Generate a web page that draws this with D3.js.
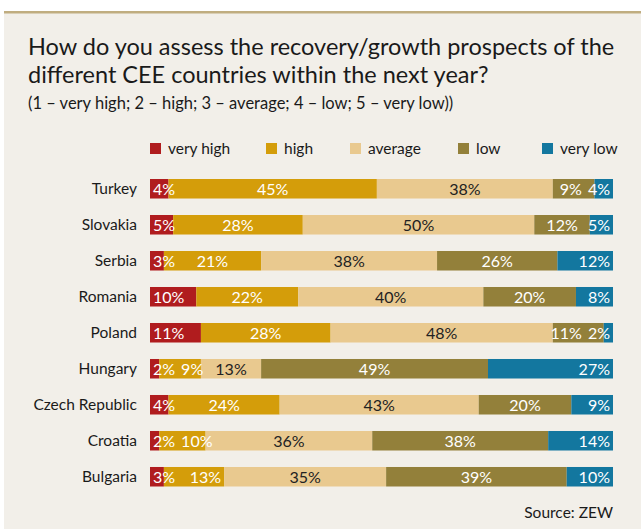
<!DOCTYPE html>
<html>
<head>
<meta charset="utf-8">
<script src="https://cdn.jsdelivr.net/npm/d3@7"></script>
<style>
  html, body { margin: 0; padding: 0; background: #ffffff; }
  svg { display: block; }
  text { font-family: Lato, "Open Sans", sans-serif; }
</style>
</head>
<body>
<svg id="chart" width="641" height="529"></svg>
<script>
const countries = ["Turkey", "Slovakia", "Serbia", "Romania", "Poland", "Hungary", "Czech Republic", "Croatia", "Bulgaria"];
const seriesNames = ["very high", "high", "average", "low", "very low"];
const veryHigh = [4, 5, 3, 10, 11, 2, 4, 2, 3];
const high     = [45, 28, 21, 22, 28, 9, 24, 10, 13];
const average  = [38, 50, 38, 40, 48, 13, 43, 36, 35];
const low      = [9, 12, 26, 20, 11, 49, 20, 38, 39];
const veryLow  = [4, 5, 12, 8, 2, 27, 9, 14, 10];
const colors = ["#b01c1e", "#d49d0a", "#e9c98f", "#93803a", "#13779f"];
const labelColors = ["#ffffff", "#ffffff", "#222222", "#ffffff", "#ffffff"];
const titleLines = ["How do you assess the recovery/growth prospects of the", "different CEE countries within the next year?"];
const subtitle = "(1 \u2013 very high; 2 \u2013 high; 3 \u2013 average; 4 \u2013 low; 5 \u2013 very low))";
const source = "Source: ZEW";

const values = [veryHigh, high, average, low, veryLow];
const rows = countries.map((c, i) => {
  const r = { country: c };
  seriesNames.forEach((s, k) => r[s] = values[k][i]);
  return r;
});

const svg = d3.select("#chart");
const W = 641, H = 529;

// panel
svg.append("rect").attr("x", 4).attr("y", 11).attr("width", W - 4).attr("height", H - 11).attr("fill", "#f2efe9");
svg.append("rect").attr("x", 4).attr("y", 11).attr("width", W - 4).attr("height", 2.5).attr("fill", "#c0ad80");

// title
svg.selectAll("text.title").data(titleLines).join("text")
  .attr("class", "title")
  .attr("x", 28).attr("y", (d, i) => 55 + i * 28)
  .attr("font-size", 23.5).attr("fill", "#1a1a1a")
  .text(d => d);
svg.append("text").attr("x", 28).attr("y", 109)
  .attr("font-size", 16.5).attr("fill", "#1a1a1a").text(subtitle);

const x = d3.scaleLinear().domain([0, 100]).range([150, 613]);
const y = d3.scaleBand().domain(countries).range([179, 486.5]).paddingInner(0.458).paddingOuter(0);

// legend
const legendX = [150, 266, 350, 458, 542];
const lg = svg.append("g").selectAll("g").data(seriesNames).join("g")
  .attr("transform", (d, i) => `translate(${legendX[i]},143)`);
lg.append("rect").attr("width", 11).attr("height", 11).attr("fill", (d, i) => colors[i]);
lg.append("text").attr("x", 18).attr("y", 10.5).attr("font-size", 15.5).attr("fill", "#1a1a1a").text(d => d);

// country axis
const yAxis = d3.axisLeft(y).tickSize(0).tickPadding(13);
const ga = svg.append("g").attr("transform", "translate(150,0)").call(yAxis);
ga.select(".domain").remove();
ga.selectAll("text").attr("font-size", 15.5).attr("fill", "#1a1a1a").attr("font-family", "Lato, sans-serif").attr("dy", "0.35em");

// stacked bars
const stack = d3.stack().keys(seriesNames)(rows);
const layers = svg.append("g").selectAll("g").data(stack).join("g")
  .attr("fill", (d, i) => colors[i]);
layers.selectAll("rect").data(d => d).join("rect")
  .attr("x", d => x(d[0]))
  .attr("y", d => y(d.data.country))
  .attr("width", d => x(d[1]) - x(d[0]))
  .attr("height", y.bandwidth());

// labels
const FS = 16;
const lblG = svg.append("g");
const measure = svg.append("text").attr("font-size", FS).attr("visibility", "hidden");
function textW(t) { measure.text(t); return measure.node().getComputedTextLength(); }
const gap = 6;
countries.forEach((c, ci) => {
  const segs = stack.map((layer, k) => {
    const d = layer[ci];
    const t = values[k][ci] + "%";
    return { k, x0: x(d[0]), x1: x(d[1]), t, w: textW(t) };
  });
  const n = segs.length;
  segs.forEach((s, k) => {
    if (k === 0) s.start = s.x0 + 3;
    else if (k === n - 1) s.start = s.x1 - 3 - s.w;
    else s.start = (s.x0 + s.x1) / 2 - s.w / 2;
  });
  for (let k = 1; k < n - 1; k++) {
    const prevEnd = segs[k - 1].start + segs[k - 1].w;
    if (segs[k].start < prevEnd + gap) {
      segs[k].start = Math.max(segs[k].x1 - 3 - segs[k].w, prevEnd + gap);
    }
  }
  for (let k = n - 2; k >= 1; k--) {
    const nextStart = segs[k + 1].start;
    if (segs[k].start + segs[k].w > nextStart - gap) segs[k].start = nextStart - gap - segs[k].w;
  }
  const yc = y(c) + y.bandwidth() / 2;
  lblG.selectAll(null).data(segs).join("text")
    .attr("x", s => s.start).attr("y", yc).attr("dy", "0.36em")
    .attr("font-size", FS).attr("fill", s => labelColors[s.k])
    .text(s => s.t);
});
measure.remove();

svg.append("text").attr("x", 613).attr("y", 518).attr("text-anchor", "end")
  .attr("font-size", 15.5).attr("fill", "#1a1a1a").text(source);
</script>
</body>
</html>
